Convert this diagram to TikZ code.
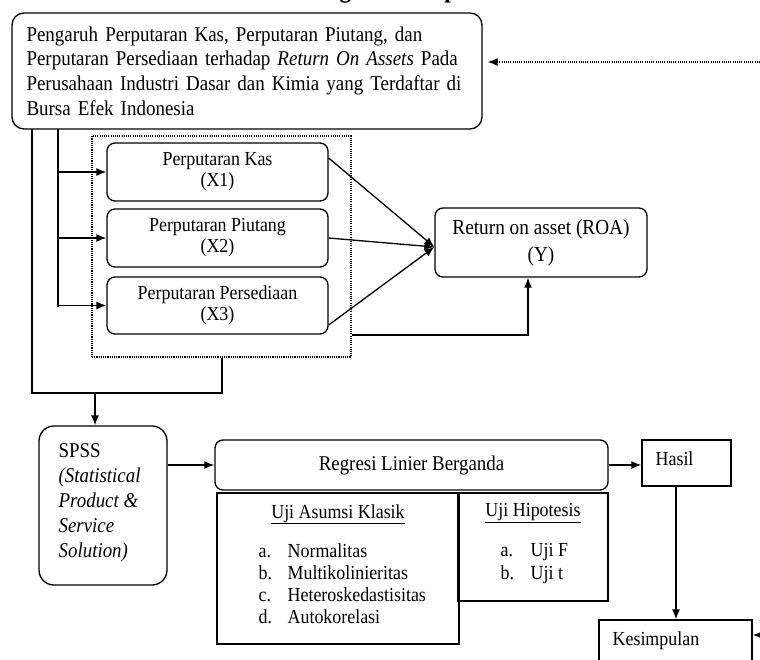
\documentclass[tikz,border=0pt]{standalone}
\usepackage{fontspec}
\setmainfont{Liberation Serif}[FakeStretch=0.9]
\usetikzlibrary{arrows.meta}
\begin{document}
\begin{tikzpicture}[x=1pt,y=-1pt,line width=1.3pt,
    >={Latex[length=10pt,width=8pt]},
    every node/.style={font=\fontsize{19.9}{21}\selectfont},
    rbox/.style={draw,rounded corners=8pt,align=center,inner sep=0pt},
    sbox/.style={draw,inner sep=0pt},
    dots/.style={dash pattern=on 1.1pt off 1.1pt}]
    \useasboundingbox (0,0) rectangle (760,659);
    \node[anchor=base west,font=\fontsize{26}{30}\selectfont\bfseries] (judul) at (272,-2.5) {Kerangka Konseptual};
    \node[rbox,rounded corners=12pt,minimum width=470,minimum height=116,text width=441,align=left,
        font=\fontsize{21.1}{24.7}\selectfont] (topik) at (247,71)
        {\makebox[441pt][s]{Pengaruh Perputaran Kas, Perputaran Piutang, dan}\\
         \makebox[441pt][s]{Perputaran Persediaan terhadap \textit{Return On Assets} Pada}\\
         \makebox[441pt][s]{Perusahaan Industri Dasar dan Kimia yang Terdaftar di}\\
         Bursa Efek Indonesia};
    \node[draw,dots,minimum width=259,minimum height=221,inner sep=0pt] (grup) at (221.5,246.5) {};
    \node[rbox,minimum width=221,minimum height=58] (x1) at (217.5,172) {Perputaran Kas\\(X1)};
    \node[rbox,minimum width=221,minimum height=58] (x2) at (217.5,238) {Perputaran Piutang\\(X2)};
    \node[rbox,minimum width=221,minimum height=57] (x3) at (217.5,305.5) {Perputaran Persediaan\\(X3)};
    \node[rbox,minimum width=212,minimum height=69,font=\fontsize{21.4}{27}\selectfont] (roa) at (541,242.5)
        {Return on asset (ROA)\\(Y)};
    \node[rbox,rounded corners=15pt,minimum width=128,minimum height=159] (spss) at (103,505.5) {};
    \foreach \t [count=\i] in {SPSS,\textit{(Statistical},\textit{Product \&},\textit{Service},\textit{Solution)}}
        \node[anchor=base west,inner sep=0pt,font=\fontsize{21}{25}\selectfont] (spss\i) at (58,432+25*\i) {\t};
    \node[rbox,minimum width=393,minimum height=50,font=\fontsize{21}{25}\selectfont] (regresi) at (411.5,465)
        {Regresi Linier Berganda};
    \node[sbox,minimum width=242,minimum height=151] (asumsi) at (338,568.5) {};
    \node[sbox,minimum width=150,minimum height=108] (hipotesis) at (533,547) {};
    \node[anchor=base] (asumsiT) at (338,518) {\underline{Uji Asumsi Klasik}};
    \node[anchor=base] (hipotesisT) at (533,516.5) {\underline{Uji Hipotesis}};
    \foreach \k/\t [count=\i] in {a./Normalitas,b./Multikolinieritas,c./Heteroskedastisitas,d./Autokorelasi}{
        \node[anchor=base west,inner sep=0pt] (uaK\i) at (258,535.5+22*\i) {\k};
        \node[anchor=base west,inner sep=0pt] (uaT\i) at (287,535.5+22*\i) {\t};
    }
    \foreach \k/\t [count=\i] in {a./Uji F,b./Uji t}{
        \node[anchor=base west,inner sep=0pt] (uhK\i) at (500,533.5+23*\i) {\k};
        \node[anchor=base west,inner sep=0pt] (uhT\i) at (530,533.5+23*\i) {\t};
    }
    \node[sbox,minimum width=89,minimum height=46] (hasil) at (686.5,463) {};
    \node[anchor=base west,inner sep=0pt] (hasilT) at (655,465) {Hasil};
    \node[sbox,minimum width=153,minimum height=80] (simpul) at (675.5,660) {};
    \node[anchor=base west,inner sep=0pt] (simpulT) at (612,645) {Kesimpulan};
    \coordinate (umpan) at (760,62);
    \draw[->,dots,shorten >=5pt] (umpan) -- (umpan -| topik.east);
    \coordinate (kiri) at (32,129);
    \coordinate (tengah) at (58,129);
    \coordinate (simpang) at (222,393);
    \coordinate (turun) at (95,393);
    \draw (kiri) |- (simpang) -- (simpang |- grup.south);
    \draw[->] (turun) -- (turun |- spss.north);
    \draw (tengah) -- (58,307);
    \foreach \b in {x1,x2,x3}
        \draw[->] (tengah |- \b.west) -- (\b.west);
    \coordinate (masuk) at ([yshift=-4.5pt]roa.west);
    \draw[->] ([yshift=14pt]x1.east) -- (masuk);
    \draw[->] (x2.east) -- (masuk);
    \draw[->] ([yshift=-19.5pt]x3.east) -- (masuk);
    \draw[->] ([yshift=-88.5pt]grup.east) -| ([xshift=-13pt]roa.south);
    \draw[->] (spss.east |- regresi.west) -- (regresi.west);
    \draw[->] (regresi.east) -- (regresi.east -| hasil.west);
    \coordinate (hasilb) at ([xshift=-10.5pt]hasil.south);
    \draw[->] (hasilb) -- (hasilb |- simpul.north);
    \coordinate (balik) at (775,635);
    \draw[->] (balik) -- (balik -| simpul.east);
\end{tikzpicture}
\end{document}
